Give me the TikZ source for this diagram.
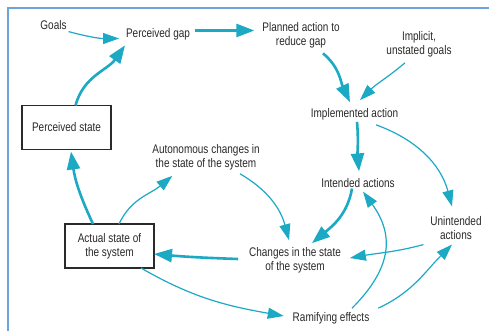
\documentclass[tikz,border=0pt]{standalone}
\usepackage{fontspec}
\setmainfont{Liberation Sans}[FakeStretch=0.8]
\usetikzlibrary{arrows.meta}
\definecolor{teal1}{HTML}{1BA9C3}
\definecolor{frameblue}{HTML}{6FA3DC}
\definecolor{txt}{HTML}{2A2A2A}
\begin{document}
\begin{tikzpicture}[x=1pt,y=1pt,
  lbl/.style={inner sep=2pt, outer sep=0pt, align=center, text=txt, font=\fontsize{12.5}{14}\selectfont},
  boxnode/.style={lbl, draw=txt, line width=1.3pt, minimum width=89pt, minimum height=44pt, inner sep=0pt},
  thickarr/.style={draw=teal1, line width=2.6pt, -{Triangle[length=18pt,width=13pt]}},
  thinarr/.style={draw=teal1, line width=1.2pt, -{Triangle[length=16pt,width=11pt]}},
]
\useasboundingbox (0,0) rectangle (489,-331);
\fill[white] (0,0) rectangle (489,-331);
\draw[frameblue, line width=1.5pt] (8,-331) -- (8,-8) -- (489,-8);

\node[lbl] (goals) at (53.5,-25) {Goals};
\node[lbl] (gap) at (158,-34.5) {Perceived gap};
\node[lbl] (planned) at (301,-35.5) {Planned action to\\reduce gap};
\node[lbl] (implicit) at (419,-44) {Implicit,\\unstated goals};
\node[lbl] (impl) at (354.5,-114) {Implemented action};
\node[boxnode] (pstate) at (66.5,-127.5) {Perceived state};
\node[lbl] (auto) at (206,-157) {Autonomous changes in\\the state of the system};
\node[lbl] (intended) at (358,-183) {Intended actions};
\node[lbl] (unint) at (456,-228) {Unintended\\actions};
\node[boxnode] (actual) at (109.5,-246) {Actual state of\\the system};
\node[lbl] (changes) at (295,-260) {Changes in the state\\of the system};
\node[lbl] (ramify) at (331,-318) {Ramifying effects};

% thick arrows
\draw[thickarr] ([xshift=3pt,yshift=4pt]gap.east) -- ([xshift=-6pt,yshift=5pt]planned.west);
\draw[thickarr] ([xshift=9pt]pstate.north) to[out=75,in=-125] ([xshift=1pt,yshift=-3pt]gap.south west);
\draw[thickarr] ([xshift=-16.5pt]actual.north) to[out=115,in=-82] ([xshift=4.5pt,yshift=-2pt]pstate.south);
\draw[thickarr] ([xshift=22pt,yshift=-3pt]planned.south) to[out=-40,in=115] ([xshift=-4.5pt,yshift=4pt]impl.north);
\draw[thickarr] ([xshift=2.5pt]impl.south) to[out=-85,in=95] ([xshift=1pt,yshift=5pt]intended.north);
\draw[thickarr] ([xshift=-6pt,yshift=1pt]intended.south) to[out=-100,in=40] ([xshift=17pt,yshift=2pt]changes.north);
\draw[thickarr] ([xshift=-9pt,yshift=1pt]changes.west) to[out=178,in=-5] ([yshift=-8pt]actual.east);

% thin arrows
\draw[thinarr] (goals.south east) to[out=-15,in=180] ([xshift=-5pt,yshift=-4pt]gap.west);
\draw[thinarr] ([xshift=9.5pt]actual.north) to[out=65,in=-140] ([xshift=22pt,yshift=-4pt]auto.south west);
\draw[thinarr] ([xshift=-14pt,yshift=-4pt]implicit.south) to[out=-140,in=45] ([xshift=5.5pt,yshift=6pt]impl.north);
\draw[thinarr] ([xshift=21.5pt,yshift=-3pt]impl.south) to[out=-20,in=105] ([xshift=-4pt,yshift=8pt]unint.north);
\draw[thinarr] ([xshift=34pt,yshift=-2pt]auto.south) to[out=-30,in=105] ([xshift=-6pt,yshift=5pt]changes.north);
\draw[thinarr] ([xshift=-5pt,yshift=-3pt]unint.south west) to[out=195,in=10] ([xshift=7pt,yshift=2pt]changes.east);
\draw[thinarr] ([xshift=31.5pt]actual.south) to[out=-30,in=170] ([xshift=-7pt,yshift=2pt]ramify.west);
\draw[thinarr] ([xshift=21pt,yshift=2pt]ramify.north) to[out=45,in=-54,looseness=1.2] ([xshift=5pt,yshift=-2pt]intended.south);
\draw[thinarr] ([xshift=7pt,yshift=2pt]ramify.north east) to[out=25,in=-135] ([xshift=-4pt,yshift=-3pt]unint.south);
\end{tikzpicture}
\end{document}
